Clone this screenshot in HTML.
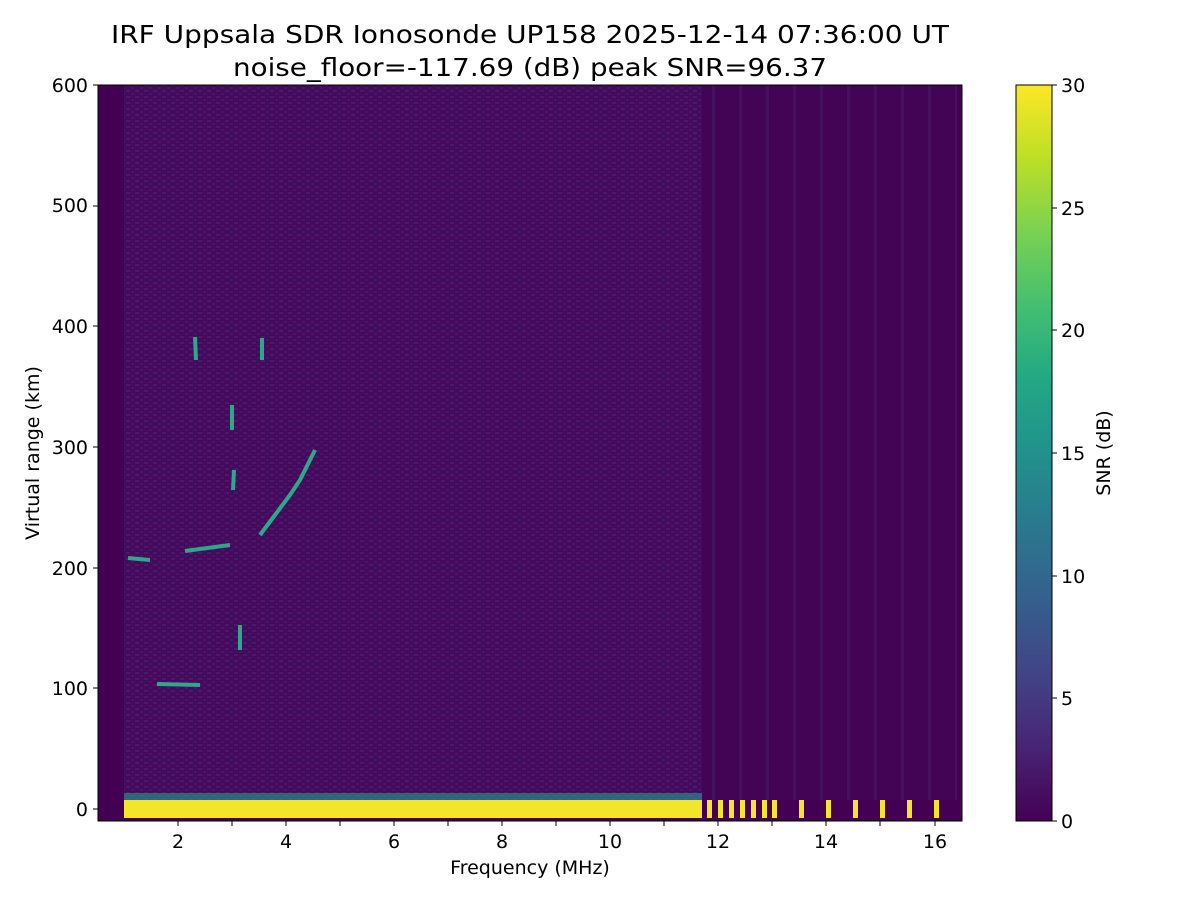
<!DOCTYPE html>
<html><head><meta charset="utf-8"><style>body{margin:0;background:#fff}svg text{font-family:"DejaVu Sans","Liberation Sans",sans-serif;fill:#000}</style></head><body>
<svg width="1200" height="900" xmlns="http://www.w3.org/2000/svg">
<defs>
<linearGradient id="cb" x1="0" y1="1" x2="0" y2="0">
<stop offset="0" stop-color="#440154"/><stop offset="0.1" stop-color="#482475"/><stop offset="0.2" stop-color="#414487"/><stop offset="0.3" stop-color="#355f8d"/><stop offset="0.4" stop-color="#2a788e"/><stop offset="0.5" stop-color="#21918c"/><stop offset="0.6" stop-color="#22a884"/><stop offset="0.7" stop-color="#44bf70"/><stop offset="0.8" stop-color="#7ad151"/><stop offset="0.9" stop-color="#bddf26"/><stop offset="1" stop-color="#fde725"/></linearGradient>
<pattern id="nz" width="9" height="6" patternUnits="userSpaceOnUse">
<rect width="9" height="6" fill="#450a5c"/><rect x="0" y="0" width="4" height="2" fill="#481a6c"/><rect x="5" y="3" width="3" height="2" fill="#47156a"/></pattern>
<pattern id="st" width="27" height="6" patternUnits="userSpaceOnUse">
<rect width="27" height="6" fill="#440456"/><rect x="10" y="0" width="3" height="6" fill="#46105f"/></pattern>
</defs>
<text x="530" y="43" font-size="25" text-anchor="middle" textLength="838" lengthAdjust="spacingAndGlyphs">IRF Uppsala SDR Ionosonde UP158 2025-12-14 07:36:00  UT</text>
<text x="530" y="76" font-size="25" text-anchor="middle" textLength="594" lengthAdjust="spacingAndGlyphs">noise_floor=-117.69 (dB) peak SNR=96.37</text>
<rect x="98" y="85" width="864" height="736" fill="#440154"/>
<rect x="124" y="85" width="578" height="715" fill="url(#nz)"/>
<rect x="702" y="85" width="255" height="715" fill="url(#st)"/>
<rect x="124" y="793" width="578" height="7" fill="#2a8a8a" opacity="0.7"/>
<rect x="124" y="800" width="578" height="18" fill="#f2e52a"/>
<g fill="#f2e52a">
<rect x="707" y="800" width="5" height="18"/><rect x="718" y="800" width="5" height="18"/><rect x="729" y="800" width="5" height="18"/><rect x="740" y="800" width="5" height="18"/><rect x="751" y="800" width="5" height="18"/><rect x="762" y="800" width="5" height="18"/><rect x="772" y="800" width="5" height="18"/><rect x="799" y="800" width="5" height="18"/><rect x="826" y="800" width="5" height="18"/><rect x="853" y="800" width="5" height="18"/><rect x="880" y="800" width="5" height="18"/><rect x="907" y="800" width="5" height="18"/><rect x="934" y="800" width="5" height="18"/></g>
<g stroke="#2fa88a" stroke-width="4" fill="none">
<path d="M260 535 L275 515 L290 495 L300 480 L315 450"/>
<path d="M128 558 L150 560 M157 684 L200 685 M185 551 L230 545"/>
<path d="M233 490 L234 470 M240 625 L240 650 M232 405 L232 430 M195 337 L196 360 M262 338 L262 360"/>
</g>
<rect x="98" y="85" width="864" height="736" fill="none" stroke="#000" stroke-width="1"/>
<g font-size="19" text-anchor="end">
<text x="88" y="816">0</text><text x="88" y="695">100</text><text x="88" y="575">200</text><text x="88" y="454">300</text><text x="88" y="333">400</text><text x="88" y="212">500</text><text x="88" y="92">600</text></g>
<g stroke="#000"><path d="M98 809h-5M98 688h-5M98 568h-5M98 447h-5M98 326h-5M98 206h-5M98 85h-5M178 821v5M232 821v5M286 821v5M340 821v5M394 821v5M448 821v5M502 821v5M556 821v5M610 821v5M664 821v5M718 821v5M772 821v5M826 821v5M880 821v5M935 821v5"/></g>
<g font-size="19" text-anchor="middle">
<text x="178" y="848">2</text><text x="286" y="848">4</text><text x="394" y="848">6</text><text x="502" y="848">8</text><text x="610" y="848">10</text><text x="718" y="848">12</text><text x="826" y="848">14</text><text x="935" y="848">16</text></g>
<text x="530" y="874" font-size="19" text-anchor="middle">Frequency (MHz)</text>
<text transform="translate(39,453) rotate(-90)" font-size="19" text-anchor="middle">Virtual range (km)</text>
<rect x="1016" y="85" width="36" height="736" fill="url(#cb)" stroke="#000"/>
<g stroke="#000"><path d="M1052 821h5M1052 698h5M1052 576h5M1052 453h5M1052 330h5M1052 208h5M1052 85h5"/></g>
<g font-size="19"><text x="1061" y="828">0</text><text x="1061" y="705">5</text><text x="1061" y="583">10</text><text x="1061" y="460">15</text><text x="1061" y="337">20</text><text x="1061" y="215">25</text><text x="1061" y="92">30</text></g>
<text transform="translate(1110,453) rotate(-90)" font-size="19" text-anchor="middle">SNR (dB)</text>
</svg></body></html>
